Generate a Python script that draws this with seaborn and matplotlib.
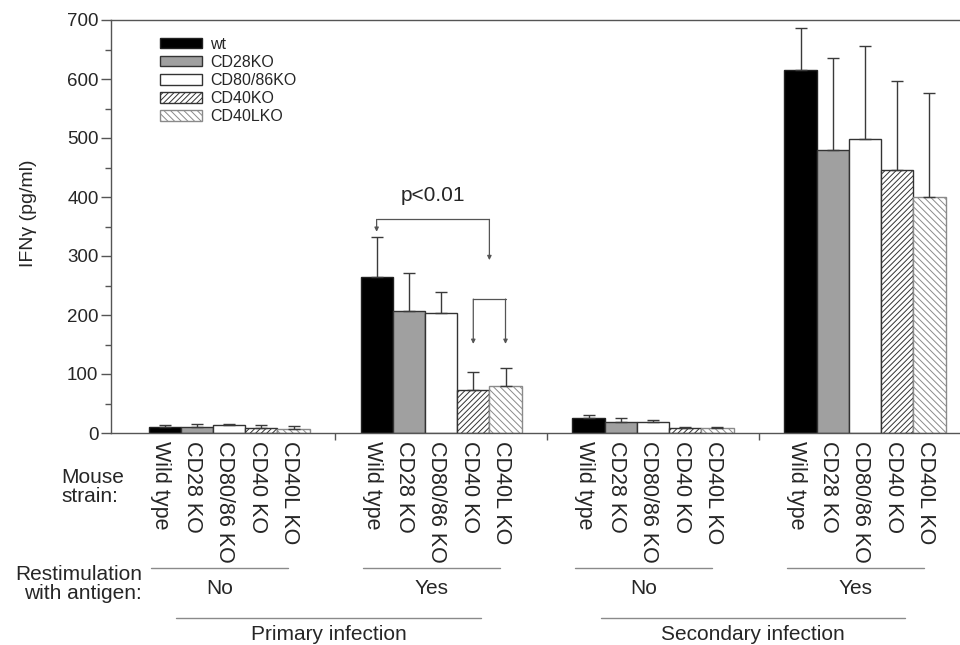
import numpy as np
import pandas as pd
import matplotlib
matplotlib.use('Agg')
import matplotlib.pyplot as plt
import matplotlib.transforms as mtransforms
from matplotlib.ticker import MultipleLocator
import seaborn as sns

# groups along x: primary/secondary infection, restimulation no/yes
groups = ['prim_no', 'prim_yes', 'sec_no', 'sec_yes']
strains = ['wt', 'CD28KO', 'CD80/86KO', 'CD40KO', 'CD40LKO']
strain_ticks = ['Wild type', 'CD28 KO', 'CD80/86 KO', 'CD40 KO', 'CD40L KO']
restim_labels = ['No', 'Yes', 'No', 'Yes']
infection_labels = ['Primary infection', 'Secondary infection']

# IFNg (pg/ml), one list per strain, in group order
wt_mean = [10, 264, 25, 615]
cd28_mean = [10, 207, 19, 480]
cd80_mean = [13, 204, 19, 498]
cd40_mean = [8, 73, 8.5, 445]
cd40l_mean = [7, 80, 8, 400]

# upper error bars
wt_err = [4, 68, 6, 71]
cd28_err = [5, 65, 7, 156]
cd80_err = [1.5, 35, 3.5, 158]
cd40_err = [6, 30, 2, 151]
cd40l_err = [5, 30, 2, 176]

means = [wt_mean, cd28_mean, cd80_mean, cd40_mean, cd40l_mean]
errs = [wt_err, cd28_err, cd80_err, cd40_err, cd40l_err]

rows = []
for s, vals in zip(strains, means):
    for g, v in zip(groups, vals):
        rows.append({'group': g, 'strain': s, 'ifng': v})
df = pd.DataFrame(rows)

sns.set_style('ticks')
plt.rcParams['font.family'] = ['Liberation Sans', 'DejaVu Sans']
plt.rcParams['hatch.linewidth'] = 0.7

colors = ['#000000', '#a0a0a0', '#ffffff', '#ffffff', '#ffffff']
hatches = ['', '', '', '//////', '\\\\\\\\\\']
edges = ['#222222', '#333333', '#333333', '#333333', '#8a8a8a']

fig = plt.figure(figsize=(9.6, 6.45), dpi=100)
ax = fig.add_axes([111 / 960, 212 / 645, 849 / 960, 413 / 645])

sns.barplot(data=df, x='group', y='ifng', hue='strain', order=groups,
            hue_order=strains, palette=colors, width=0.76, errorbar=None,
            saturation=1, linewidth=1, edgecolor='#333333', legend=False, ax=ax)

centers = []
for cont, err, h, ec in zip(ax.containers, errs, hatches, edges):
    xs = []
    ys = []
    for b in cont:
        b.set_hatch(h)
        b.set_edgecolor(ec)
        xs.append(b.get_x() + b.get_width() / 2)
        ys.append(b.get_height())
    centers.append(xs)
    ax.errorbar(xs, ys, yerr=[np.zeros(len(err)), err], fmt='none',
                ecolor='#3a3a3a', elinewidth=1, capsize=4.3, capthick=1, zorder=5)

ax.set_xlim(-0.557, 3.448)
ax.set_ylim(0, 700)
ax.yaxis.set_major_locator(MultipleLocator(100))
ax.yaxis.set_minor_locator(MultipleLocator(50))
ax.set_xticks([0.5, 1.5, 2.5])
ax.set_xticklabels([])
ax.set_xlabel('')
ax.tick_params(axis='y', which='major', length=7, width=1, pad=2,
               labelsize=13.5, color='#555555')
ax.tick_params(axis='y', which='minor', length=4, width=1, color='#555555')
ax.tick_params(axis='x', length=5, width=1, color='#555555')
ax.spines['right'].set_visible(False)
for sp in ['left', 'bottom', 'top']:
    ax.spines[sp].set_color('#555555')
    ax.spines[sp].set_linewidth(1)
ax.set_ylabel('IFNγ (pg/ml)', fontsize=14)
ax.yaxis.set_label_coords(-0.087, 0.533)

ax.legend(handles=[c[0] for c in ax.containers], labels=strains,
          loc='upper left', bbox_to_anchor=(0.058, 0.96), frameon=False,
          fontsize=11.5, handlelength=2.6, handleheight=0.63,
          handletextpad=0.5, labelspacing=0.2, borderpad=0, borderaxespad=0)

# significance brackets (primary infection, restimulated)
line_kw = dict(color='#555555', lw=0.9)
arrow_kw = dict(arrowstyle='-|>', color='#555555', lw=0.9, mutation_scale=6,
                shrinkA=0, shrinkB=0)
xa = centers[0][1]
xb = (centers[3][1] + centers[4][1]) / 2
ax.plot([xa, xb], [362, 362], **line_kw)
ax.annotate('', xy=(xa, 341), xytext=(xa, 362), arrowprops=arrow_kw)
ax.annotate('', xy=(xb, 293), xytext=(xb, 362), arrowprops=arrow_kw)
ax.text((xa + xb) / 2, 403, 'p<0.01', ha='center', va='center', fontsize=15)
xc = centers[3][1]
xd = centers[4][1]
ax.plot([xc, xd], [227, 227], **line_kw)
ax.annotate('', xy=(xc, 151), xytext=(xc, 227), arrowprops=arrow_kw)
ax.annotate('', xy=(xd, 151), xytext=(xd, 227), arrowprops=arrow_kw)

# labels under the axis
trans = mtransforms.blended_transform_factory(ax.transData, fig.transFigure)
for i, lab in enumerate(strain_ticks):
    for x in centers[i]:
        ax.text(x - 0.02, 0.316, lab, rotation=-90, ha='center', va='top',
                transform=trans, fontsize=15.5)

for gi, lab in enumerate(restim_labels):
    x0, x1 = gi - 0.37, gi + 0.28
    ax.plot([x0, x1], [0.1194, 0.1194], transform=trans, clip_on=False,
            color='#8a8a8a', lw=1)
    ax.text((x0 + x1) / 2, 0.088, lab, transform=trans, ha='center',
            va='center', fontsize=15)

inf_spans = [(-0.25, 1.19), (1.755, 3.19)]
for (x0, x1), lab in zip(inf_spans, infection_labels):
    ax.plot([x0, x1], [0.042, 0.042], transform=trans, clip_on=False,
            color='#8a8a8a', lw=1)
    ax.text((x0 + x1) / 2, 0.016, lab, transform=trans, ha='center',
            va='center', fontsize=15)

fig.text(61 / 960, 0.245, 'Mouse\nstrain:', ha='left', va='center',
         fontsize=15, linespacing=1.0)
fig.text(142 / 960, 0.0946, 'Restimulation\nwith antigen:', ha='right',
         va='center', multialignment='right', fontsize=15, linespacing=1.0)

fig.savefig('out.png', dpi=100)
